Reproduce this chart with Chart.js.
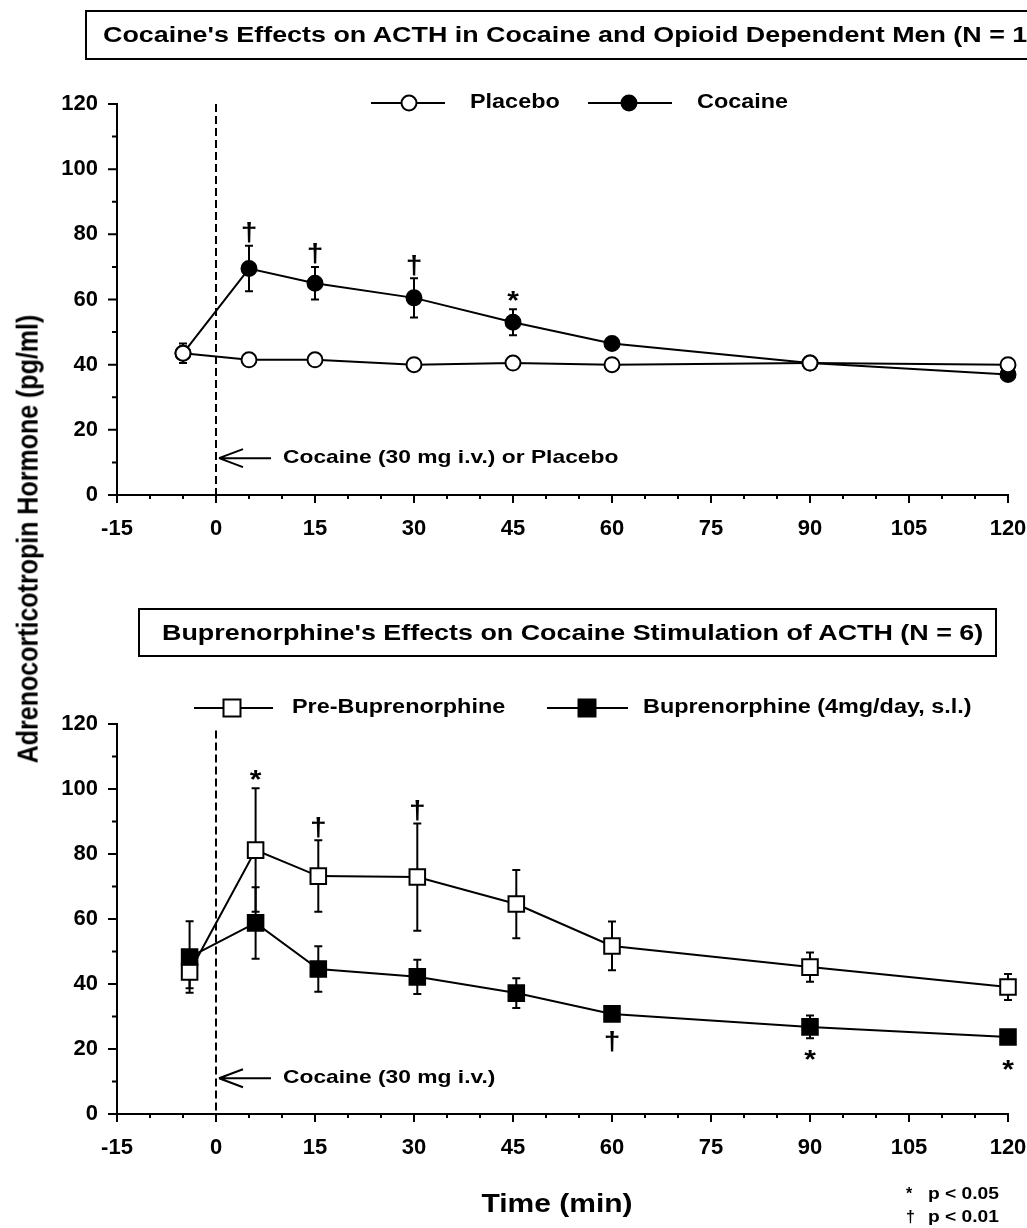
<!DOCTYPE html>
<html>
<head>
<meta charset="utf-8">
<title>ACTH response to cocaine</title>
<script src="https://cdn.jsdelivr.net/npm/chart.js"></script>
<style>
    html, body { margin: 0; padding: 0; background: #fff; }
    body {
        position: relative; width: 1027px; height: 1228px; overflow: hidden;
        font-family: "Liberation Sans", Arial, Helvetica, sans-serif; font-weight: bold; color: #000;
    }
    canvas { position: absolute; left: 0; }
    #c1 { top: 0; }
    #c2 { top: 560px; }
    .tbox {
        position: absolute; box-sizing: border-box; border: 2px solid #000;
        white-space: nowrap; font-size: 22.4px; line-height: 45px; z-index: 2;
    }
    .tbox span { display: inline-block; transform: scaleX(1.2); transform-origin: 0 50%; }
    #tb1 { left: 85px; top: 10px; width: 1000px; height: 50px; padding-left: 16px; }
    #tb2 { left: 138px; top: 608px; width: 859px; height: 49px; padding-left: 22px; }
    #ytitle { position: absolute; left: 27px; top: 539px; width: 0; height: 0; }
    #ytitle span {
        position: absolute; left: 0; top: 0; white-space: nowrap; font-size: 25px;
        transform: translate(-50%, -50%) rotate(-90deg) scaleY(1.2);
    }
    #xtitle {
        position: absolute; left: 557px; top: 1203px; white-space: nowrap; font-size: 25px;
        transform: translate(-50%, -50%) scaleX(1.2);
    }
    .fn { position: absolute; left: 0; width: 1027px; height: 20px; line-height: 20px; font-size: 16px; }
    .fn .sym { position: absolute; left: 906px; }
    .fn .txt { position: absolute; left: 928px; transform: scaleX(1.2); transform-origin: 0 50%; white-space: nowrap; }
</style>
</head>
<body>
<div class="tbox" id="tb1"><span>Cocaine's Effects on ACTH in Cocaine and Opioid Dependent Men (N = 18)</span></div>
<div class="tbox" id="tb2"><span>Buprenorphine's Effects on Cocaine Stimulation of ACTH (N = 6)</span></div>
<canvas id="c1" width="1027" height="560"></canvas>
<canvas id="c2" width="1027" height="668"></canvas>
<div id="ytitle"><span>Adrenocorticotropin Hormone (pg/ml)</span></div>
<div id="xtitle">Time (min)</div>
<div class="fn" style="top:1184px"><span class="sym">*</span><span class="txt">p &lt; 0.05</span></div>
<div class="fn" style="top:1207px"><span class="sym">†</span><span class="txt">p &lt; 0.01</span></div>

<script>
// top panel: cocaine vs placebo
const timesTop = [-5, 5, 15, 30, 45, 60, 90, 120];
const placeboVals = [43.5, 41.5, 41.5, 40, 40.5, 40, 40.5, 40];
const placeboErr = [1.5, 1.5, 1.5, 1.5, 1.5, 1.5, 1.5, 1.5];
const cocaineVals = [43.5, 69.5, 65, 60.5, 53, 46.5, 40.5, 37];
const cocaineErr = [3, 7, 5, 6, 4, 1.5, 1, 1];
const cocaineMarks = ['', '†', '†', '†', '*', '', '', ''];

// bottom panel: before / during buprenorphine
const timesBottom = [-4, 6, 15.5, 30.5, 45.5, 60, 90, 120];
const preBupVals = [43.7, 81.2, 73.2, 72.9, 64.6, 51.7, 45.2, 39.1];
const preBupErr = [5, 19, 11, 16.5, 10.5, 7.5, 4.5, 4];
const preBupMarks = ['', '*', '†', '†', '', '', '', ''];
const bupVals = [48.3, 58.8, 44.6, 42.2, 37.2, 30.8, 26.8, 23.7];
const bupErr = [11, 11, 7, 5.3, 4.6, 2, 3.5, 1.5];
const bupMarks = ['', '', '', '', '', '†', '*', '*'];

const xTicks = [-15, 0, 15, 30, 45, 60, 75, 90, 105, 120];
const yTicks = [0, 20, 40, 60, 80, 100, 120];
const xMinorStep = 5;
const yMinorStep = 10;

const FONT = '"Liberation Sans", Arial, Helvetica, sans-serif';
const SX = 1.2; // the scanned figure is a bit wider than tall

function pts(xs, ys) {
    return xs.map((x, i) => ({ x: x, y: ys[i] }));
}

function wideText(ctx, txt, x, y, size, align) {
    ctx.save();
    ctx.font = 'bold ' + size + 'px ' + FONT;
    ctx.textBaseline = 'middle';
    ctx.textAlign = align || 'left';
    ctx.translate(x, y);
    ctx.scale(SX, 1);
    ctx.fillText(txt, 0, 0);
    ctx.restore();
}

function marker(ctx, style, fill, x, y, r) {
    ctx.save();
    ctx.fillStyle = fill;
    ctx.strokeStyle = '#000';
    ctx.lineWidth = 2;
    ctx.beginPath();
    if (style === 'rect') {
        const h = Math.SQRT1_2 * r;
        ctx.rect(x - h, y - h, 2 * h, 2 * h);
    } else {
        ctx.arc(x, y, r, 0, Math.PI * 2);
    }
    ctx.fill();
    ctx.stroke();
    ctx.restore();
}

// axis tick marks, error bars, significance marks, cue line and key
function decor(cfg) {
    return {
        id: 'decor',
        beforeDatasetsDraw(chart) {
            const { ctx, chartArea: a, scales: { x, y } } = chart;
            ctx.save();
            ctx.strokeStyle = '#000';
            ctx.lineWidth = 2;

            // dashed injection line at t = 0
            const x0 = x.getPixelForValue(0);
            ctx.setLineDash([8, 4]);
            ctx.beginPath();
            ctx.moveTo(x0, y.getPixelForValue(cfg.cueTop));
            ctx.lineTo(x0, a.bottom);
            ctx.stroke();
            ctx.setLineDash([]);

            // arrow + label
            const ay = y.getPixelForValue(cfg.cueY);
            ctx.beginPath();
            ctx.moveTo(x0 + 3, ay); ctx.lineTo(x0 + 55, ay);
            ctx.moveTo(x0 + 3, ay); ctx.lineTo(x0 + 27, ay - 9);
            ctx.moveTo(x0 + 3, ay); ctx.lineTo(x0 + 27, ay + 9);
            ctx.stroke();
            ctx.fillStyle = '#000';
            wideText(ctx, cfg.cueText, x0 + 67, ay, 19);

            // error bars under the markers
            chart.data.datasets.forEach(ds => {
                ds.data.forEach((p, i) => {
                    const e = ds.errors[i];
                    if (!e) return;
                    const px = x.getPixelForValue(p.x);
                    const t = y.getPixelForValue(p.y + e);
                    const b = y.getPixelForValue(p.y - e);
                    ctx.beginPath();
                    ctx.moveTo(px, t); ctx.lineTo(px, b);
                    ctx.moveTo(px - 4, t); ctx.lineTo(px + 4, t);
                    ctx.moveTo(px - 4, b); ctx.lineTo(px + 4, b);
                    ctx.stroke();
                });
            });
            ctx.restore();
        },
        afterDatasetsDraw(chart) {
            const { ctx, scales: { x, y } } = chart;
            ctx.save();
            ctx.fillStyle = '#000';
            ctx.font = 'bold 25px ' + FONT;
            chart.data.datasets.forEach(ds => {
                ds.data.forEach((p, i) => {
                    const m = ds.marks[i];
                    if (!m) return;
                    const px = x.getPixelForValue(p.x);
                    let cy;
                    if (ds.markSide === 'below') {
                        cy = y.getPixelForValue(p.y) + 28;
                    } else {
                        cy = y.getPixelForValue(p.y + ds.errors[i]) - 13;
                    }
                    const mt = ctx.measureText(m);
                    const dy = (mt.actualBoundingBoxAscent - mt.actualBoundingBoxDescent) / 2;
                    ctx.save();
                    ctx.translate(px, cy + dy);
                    ctx.scale(SX, 1);
                    ctx.textAlign = 'center';
                    ctx.fillText(m, 0, 0);
                    ctx.restore();
                });
            });
            ctx.restore();
        },
        afterDraw(chart) {
            const { ctx, chartArea: a, scales: { x, y } } = chart;
            ctx.save();
            ctx.strokeStyle = '#000';
            ctx.lineWidth = 2;
            ctx.beginPath();
            for (let v = x.min; v <= x.max; v += xMinorStep) {
                const px = x.getPixelForValue(v);
                ctx.moveTo(px, a.bottom);
                ctx.lineTo(px, a.bottom + (xTicks.includes(v) ? 8 : 4));
            }
            for (let v = y.min; v <= y.max; v += yMinorStep) {
                const py = y.getPixelForValue(v);
                ctx.moveTo(a.left, py);
                ctx.lineTo(a.left - (yTicks.includes(v) ? 9 : 5), py);
            }
            ctx.stroke();

            // key
            cfg.keys.forEach(k => {
                ctx.beginPath();
                ctx.moveTo(k.x0, cfg.keyY);
                ctx.lineTo(k.x1, cfg.keyY);
                ctx.stroke();
                marker(ctx, k.style, k.fill, k.mx, cfg.keyY, k.r);
                ctx.fillStyle = '#000';
                wideText(ctx, k.label, k.tx, cfg.keyY, 19.5);
            });
            ctx.restore();
        }
    };
}

function series(label, data, errors, marks, side, style, fill, r) {
    return {
        label: label,
        data: data,
        errors: errors,
        marks: marks,
        markSide: side,
        borderColor: '#000',
        borderWidth: 2,
        tension: 0,
        clip: false,
        pointStyle: style,
        pointRadius: r,
        pointBackgroundColor: fill,
        pointBorderColor: '#000',
        pointBorderWidth: 2
    };
}

function makeChart(id, datasets, cfg) {
    const tickFont = { family: FONT, size: 22, weight: 'bold' };
    return new Chart(document.getElementById(id), {
        type: 'line',
        data: { datasets: datasets },
        options: {
            responsive: false,
            animation: false,
            events: [],
            layout: { padding: { left: 0, right: 19, top: cfg.top, bottom: 0 } },
            plugins: { legend: { display: false }, tooltip: { enabled: false } },
            scales: {
                x: {
                    type: 'linear',
                    min: -15,
                    max: 120,
                    afterBuildTicks: s => { s.ticks = xTicks.map(v => ({ value: v })); },
                    afterFit: s => { s.height = cfg.xh; s.paddingLeft = 0; s.paddingRight = 0; },
                    grid: { display: false },
                    border: { display: true, color: '#000', width: 2 },
                    ticks: { color: '#000', font: tickFont, padding: 13, maxRotation: 0, autoSkip: false }
                },
                y: {
                    min: 0,
                    max: 120,
                    afterBuildTicks: s => { s.ticks = yTicks.map(v => ({ value: v })); },
                    afterFit: s => { s.width = 117; s.paddingTop = 0; s.paddingBottom = 0; },
                    grid: { display: false },
                    border: { display: true, color: '#000', width: 2 },
                    ticks: { color: '#000', font: tickFont, padding: 11 }
                }
            }
        },
        plugins: [decor(cfg)]
    });
}

// placebo drawn on top of cocaine, so it comes first
makeChart('c1', [
    series('Placebo', pts(timesTop, placeboVals), placeboErr, [], 'above', 'circle', '#fff', 7.5),
    series('Cocaine', pts(timesTop, cocaineVals), cocaineErr, cocaineMarks, 'above', 'circle', '#000', 7.5)
], {
    top: 104, xh: 65,
    cueTop: 120, cueY: 11.3, cueText: 'Cocaine (30 mg i.v.) or Placebo',
    keyY: 103,
    keys: [
        { label: 'Placebo', x0: 371, x1: 445, mx: 409, tx: 470, style: 'circle', fill: '#fff', r: 7.5 },
        { label: 'Cocaine', x0: 588, x1: 672, mx: 629, tx: 697, style: 'circle', fill: '#000', r: 7.5 }
    ]
});

makeChart('c2', [
    series('Buprenorphine (4mg/day, s.l.)', pts(timesBottom, bupVals), bupErr, bupMarks, 'below', 'rect', '#000', 11),
    series('Pre-Buprenorphine', pts(timesBottom, preBupVals), preBupErr, preBupMarks, 'above', 'rect', '#fff', 11)
], {
    top: 164, xh: 114,
    cueTop: 118, cueY: 11, cueText: 'Cocaine (30 mg i.v.)',
    keyY: 148,
    keys: [
        { label: 'Pre-Buprenorphine', x0: 194, x1: 273, mx: 232, tx: 292, style: 'rect', fill: '#fff', r: 12 },
        { label: 'Buprenorphine (4mg/day, s.l.)', x0: 547, x1: 628, mx: 587, tx: 643, style: 'rect', fill: '#000', r: 12 }
    ]
});
</script>
</body>
</html>
